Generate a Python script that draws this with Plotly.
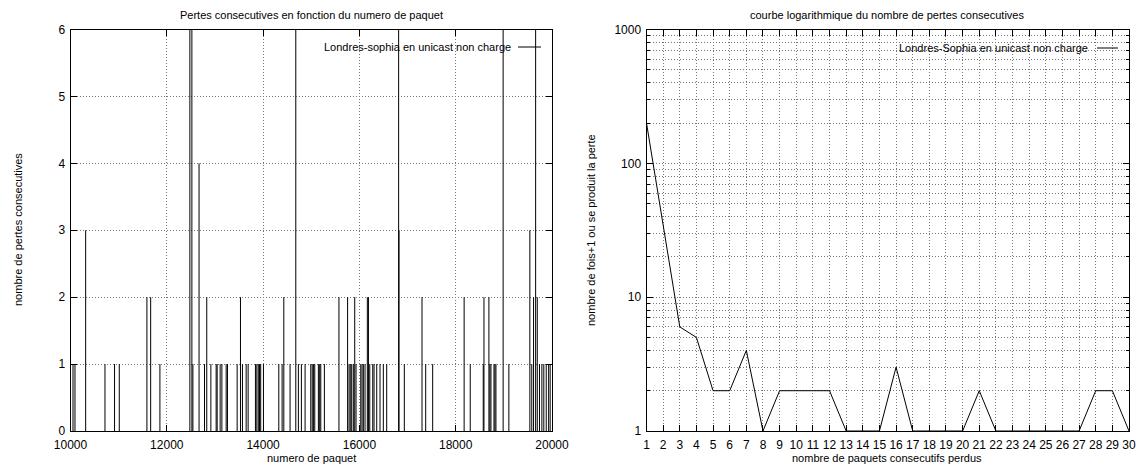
import plotly.graph_objects as go

W, H = 1136, 468

# --- left chart: length of each loss burst, by packet number ---
paquets = [
    10052, 10093, 10315, 10716, 10915, 11013, 11587, 11665, 11857,
    12479, 12521, 12542, 12670, 12783, 12830, 12915, 13025, 13046, 13108,
    13144, 13233, 13260, 13461, 13530, 13571, 13648, 13689, 13841, 13870,
    13900, 13925, 13950, 14007, 14326, 14395, 14430, 14560, 14679, 14733,
    14795, 14872, 14990, 15020, 15045, 15073, 15148, 15175, 15198, 15273,
    15575, 15755, 15785, 15810, 15840, 15874, 15903, 15930, 16028, 16055,
    16082, 16117, 16165, 16188, 16215, 16277, 16304, 16360, 16428, 16497,
    16567, 16815, 16823, 16933, 17300, 17377, 17522, 18175, 18302, 18572,
    18587, 18690, 18710, 18732, 18795, 18815, 18836, 18985, 19104, 19540,
    19580, 19617, 19660, 19694, 19740, 19790, 19830, 19880, 19930, 19962,
]
pertes = [
    1, 1, 3, 1, 1, 1, 2, 2, 1,
    6, 6, 1, 4, 1, 2, 1, 1, 1, 1,
    1, 1, 1, 1, 2, 1, 1, 1, 1, 1,
    1, 1, 1, 1, 1, 1, 2, 1, 6, 1,
    1, 1, 1, 1, 1, 1, 1, 1, 1, 1,
    2, 2, 1, 1, 1, 1, 2, 1, 1, 1,
    1, 1, 2, 2, 1, 1, 1, 1, 1, 1,
    1, 6, 3, 1, 2, 1, 1, 2, 1, 1,
    2, 2, 1, 1, 1, 1, 1, 6, 1, 3,
    1, 2, 6, 2, 1, 1, 1, 1, 1, 1,
]
x_ticks = list(range(10000, 20001, 2000))
y_ticks = list(range(0, 7))

# --- right chart: occurrences (+1) of each burst length ---
rafale = list(range(1, 31))
occurrences = [200, 35, 6, 5, 2, 2, 4, 1, 2, 2, 2, 2, 1, 1, 1,
               3, 1, 1, 1, 1, 2, 1, 1, 1, 1, 1, 1, 2, 2, 1]
log_ticks = [1, 10, 100, 1000]

FONT = "Liberation Sans, Arial, Helvetica, sans-serif"

# impulse segments from 0 up to each value
ix, iy = [], []
for p, n in zip(paquets, pertes):
    ix += [p, p, None]
    iy += [0, n, None]

fig = go.Figure()
fig.add_trace(go.Scatter(x=ix, y=iy, mode="lines", xaxis="x", yaxis="y",
                         line=dict(color="black", width=1), showlegend=False,
                         hoverinfo="skip"))
fig.add_trace(go.Scatter(x=rafale, y=occurrences, mode="lines", xaxis="x2", yaxis="y2",
                         line=dict(color="black", width=1), showlegend=False))

def px_x(v):
    return v / W

def px_y(v):
    return 1 - v / H

top, bottom = 29.5, 431
ydom = [px_y(bottom), px_y(top)]
left_dom = [px_x(70.5), px_x(552)]
right_dom = [px_x(646.5), px_x(1129)]

DOT = "1px,2px"
common = dict(showline=True, linecolor="black", linewidth=1, mirror="allticks",
              ticks="inside", ticklen=6, tickcolor="black", automargin=False,
              showgrid=True, gridcolor="#777", griddash=DOT, gridwidth=1,
              zeroline=False, tickfont=dict(family=FONT, size=12, color="black"))

minor_vals = [m * 10 ** d for d in range(3) for m in range(2, 10)]

fig.update_layout(
    width=W, height=H, margin=dict(l=0, r=0, t=0, b=0, autoexpand=False),
    paper_bgcolor="white", plot_bgcolor="white",
    font=dict(family=FONT, size=11, color="black"),
    xaxis=dict(domain=left_dom, anchor="y", range=[10000, 20000],
               tickmode="array", tickvals=x_ticks, ticklabelstandoff=3,
               ticktext=[str(v) for v in x_ticks], **common),
    yaxis=dict(domain=ydom, anchor="x", range=[0, 6], ticklabelstandoff=2,
               tickmode="array", tickvals=y_ticks, **common),
    xaxis2=dict(domain=right_dom, anchor="y2", range=[1, 30], ticklabelstandoff=3,
                tickmode="array", tickvals=rafale, **common),
    yaxis2=dict(domain=ydom, anchor="x2", type="log", range=[0, 3],
                tickmode="array", tickvals=log_ticks, ticklabelstandoff=2,
                ticktext=[str(v) for v in log_ticks],
                minor=dict(tickmode="array", tickvals=minor_vals, ticks="inside",
                           ticklen=3, tickcolor="black", showgrid=True,
                           gridcolor="#777", griddash=DOT, gridwidth=1),
                **common),
)

ann = []
def text(x, y, s, **kw):
    d = dict(x=px_x(x), y=px_y(y), xref="paper", yref="paper", text=s,
             xanchor="center", yanchor="middle", showarrow=False,
             font=dict(family=FONT, size=11, color="black"))
    d.update(kw)
    ann.append(d)

# titles
text(311, 15, "Pertes consecutives en fonction du numero de paquet")
text(887, 15, "courbe logarithmique du nombre de pertes consecutives")
# axis titles
text(311, 458, "numero de paquet")
text(887, 458, "nombre de paquets consecutifs perdus")
text(18, 230, "nombre de pertes consecutives", textangle=-90)
text(591, 230, "nombre de fois+1 ou se produit la perte", textangle=-90)
# keys
text(513, 47, "Londres-sophia en unicast non charge", xanchor="right")
text(1090, 48, "Londres-Sophia en unicast non charge", xanchor="right")
fig.update_layout(annotations=ann)

fig.add_shape(type="line", xref="paper", yref="paper",
              x0=px_x(518), x1=px_x(541), y0=px_y(47), y1=px_y(47),
              line=dict(color="black", width=1))
fig.add_shape(type="line", xref="paper", yref="paper",
              x0=px_x(1097), x1=px_x(1118), y0=px_y(48), y1=px_y(48),
              line=dict(color="black", width=1))

fig.write_html("out.html")
